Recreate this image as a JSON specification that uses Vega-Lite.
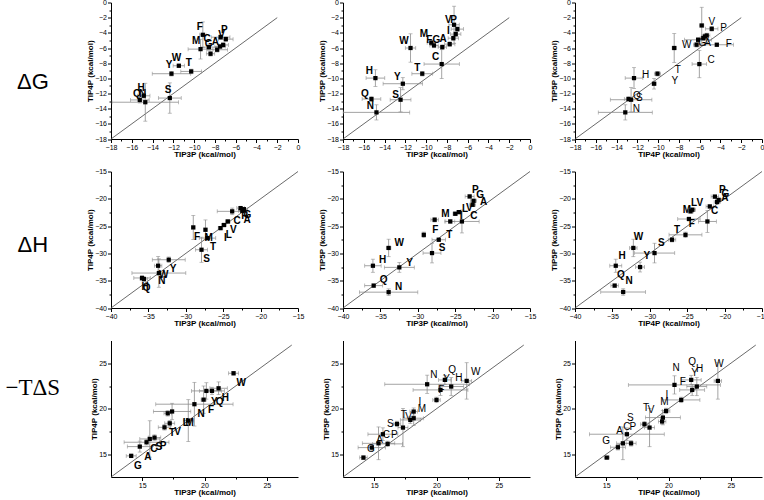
{
  "$schema": "https://vega.github.io/schema/vega-lite/v6.json",
  "padding": {"left": 0, "top": -1.5, "right": 0, "bottom": 0},
  "background": "white",
  "columns": 4,
  "spacing": {"row": 32, "column": 45},
  "bounds": "flush",
  "config": {
    "view": {"stroke": null},
    "font": "Liberation Sans",
    "axis": {"grid": false, "domainColor": "#000", "domainWidth": 1, "tickColor": "#000", "tickWidth": 1, "tickSize": 3.5,
      "labelColor": "#000", "labelFontSize": 7, "labelPadding": 1, "labelFont": "Liberation Sans", "labelFlush": false, "labelOverlap": false,
      "titleFont": "Liberation Sans", "titleColor": "#000", "titleFontSize": 8, "titleFontWeight": "bold", "titlePadding": 0}
  },
  "datasets": {
    "dg": [{"x": -18, "y": -18}, {"x": -2, "y": -2}],
    "dh": [{"x": -40, "y": -40}, {"x": -15, "y": -15}],
    "ds": [{"x": 12.5, "y": 12.5}, {"x": 27, "y": 27}],
    "g1": [
      {"aa": "F", "x": -9.16, "y": -4.26, "xe": 0.3, "ye": 1.7, "lx": -9.45, "ly": -3.2},
      {"aa": "M", "x": -9.38, "y": -6.15, "xe": 1.2, "ye": 1.3, "lx": -9.8, "ly": -5.1},
      {"aa": "C", "x": -8.58, "y": -5.88, "xe": 0.8, "ye": 0.4, "lx": -8.75, "ly": -4.85},
      {"aa": "G", "x": -8.42, "y": -6.76, "xe": 0.4, "ye": 0.3, "lx": -8.6, "ly": -5.5},
      {"aa": "A", "x": -7.78, "y": -6.23, "xe": 1.0, "ye": 0.3, "lx": -7.95, "ly": -5.15},
      {"aa": "P", "x": -7.45, "y": -4.57, "xe": 0.9, "ye": 0.3, "lx": -7.1, "ly": -3.6},
      {"aa": "V", "x": -6.95, "y": -4.83, "xe": 0.7, "ye": 0.3, "lx": -7.35, "ly": -4.25},
      {"aa": "I", "x": -7.2, "y": -5.6, "xe": 0.5, "ye": 0.3, "lx": null, "ly": null},
      {"aa": "L", "x": -7.5, "y": -5.8, "xe": 0.5, "ye": 0.3, "lx": null, "ly": null},
      {"aa": "W", "x": -11.47, "y": -8.34, "xe": 0.55, "ye": 0.2, "lx": -11.7, "ly": -7.3},
      {"aa": "Y", "x": -12.18, "y": -9.39, "xe": 1.85, "ye": 0.3, "lx": -12.4, "ly": -8.3},
      {"aa": "T", "x": -10.28, "y": -9.09, "xe": 1.0, "ye": 0.3, "lx": -10.5, "ly": -8.0},
      {"aa": "H", "x": -14.85, "y": -12.3, "xe": 0.6, "ye": 0.3, "lx": -15.1, "ly": -11.3},
      {"aa": "Q", "x": -15.23, "y": -12.85, "xe": 0.9, "ye": 0.4, "lx": -15.5, "ly": -12.0},
      {"aa": "N", "x": -14.7, "y": -13.15, "xe": 3.2, "ye": 2.5, "lx": -14.95, "ly": -12.1},
      {"aa": "S", "x": -12.34, "y": -12.6, "xe": 1.1, "ye": 2.0, "lx": -12.5, "ly": -11.5}
    ],
    "g2": [
      {"aa": "V", "x": -7.31, "y": -2.94, "xe": 0.5, "ye": 2.45, "lx": -7.86, "ly": -2.3},
      {"aa": "P", "x": -6.99, "y": -3.51, "xe": 0.6, "ye": 0.3, "lx": -7.35, "ly": -2.35},
      {"aa": "I", "x": -7.15, "y": -4.17, "xe": 0.5, "ye": 0.3, "lx": -7.86, "ly": -3.75},
      {"aa": "L", "x": -7.38, "y": -4.7, "xe": 0.5, "ye": 0.3, "lx": null, "ly": null},
      {"aa": "A", "x": -7.73, "y": -5.49, "xe": 0.5, "ye": 0.3, "lx": -8.37, "ly": -4.8},
      {"aa": "G", "x": -8.44, "y": -5.88, "xe": 0.4, "ye": 0.3, "lx": -9.0, "ly": -5.0},
      {"aa": "F", "x": -9.24, "y": -5.66, "xe": 0.4, "ye": 0.3, "lx": -9.7, "ly": -4.9},
      {"aa": "M", "x": -9.5, "y": -5.3, "xe": 0.4, "ye": 0.3, "lx": -10.2, "ly": -4.1},
      {"aa": "C", "x": -8.5, "y": -8.12, "xe": 1.7, "ye": 1.9, "lx": -9.08, "ly": -7.2},
      {"aa": "W", "x": -11.5, "y": -6.0, "xe": 0.5, "ye": 1.87, "lx": -12.14, "ly": -5.14},
      {"aa": "T", "x": -10.37, "y": -9.39, "xe": 1.0, "ye": 0.3, "lx": -10.85, "ly": -8.65},
      {"aa": "H", "x": -14.88, "y": -9.97, "xe": 0.9, "ye": 1.1, "lx": -15.46, "ly": -9.09},
      {"aa": "Y", "x": -12.24, "y": -10.71, "xe": 1.9, "ye": 0.8, "lx": -12.78, "ly": -9.88},
      {"aa": "Q", "x": -15.26, "y": -12.73, "xe": 0.9, "ye": 0.3, "lx": -15.9, "ly": -12.03},
      {"aa": "S", "x": -12.46, "y": -12.82, "xe": 1.0, "ye": 1.6, "lx": -12.95, "ly": -12.16},
      {"aa": "N", "x": -14.78, "y": -14.49, "xe": 3.2, "ye": 1.0, "lx": -15.36, "ly": -13.7}
    ],
    "g3": [
      {"aa": "H", "x": -12.32, "y": -9.97, "xe": 0.85, "ye": 1.38, "lx": -11.2, "ly": -9.55},
      {"aa": "Y", "x": -10.39, "y": -10.71, "xe": 0.2, "ye": 0.7, "lx": -8.4, "ly": -10.3},
      {"aa": "T", "x": -10.06, "y": -9.39, "xe": 0.3, "ye": 0.3, "lx": -8.1, "ly": -8.9},
      {"aa": "W", "x": -8.45, "y": -6.0, "xe": 0.2, "ye": 1.9, "lx": -7.25, "ly": -5.6},
      {"aa": "C", "x": -6.03, "y": -8.12, "xe": 0.7, "ye": 1.8, "lx": -4.9, "ly": -7.6},
      {"aa": "V", "x": -5.8, "y": -3.03, "xe": 0.2, "ye": 2.4, "lx": -4.84, "ly": -2.6},
      {"aa": "P", "x": -4.84, "y": -3.47, "xe": 0.6, "ye": 0.3, "lx": -3.7, "ly": -3.3},
      {"aa": "F", "x": -4.35, "y": -5.57, "xe": 1.6, "ye": 0.2, "lx": -3.2, "ly": -5.45},
      {"aa": "M", "x": -6.15, "y": -4.92, "xe": 1.3, "ye": 0.3, "lx": null, "ly": null},
      {"aa": "G", "x": -6.3, "y": -5.57, "xe": 0.3, "ye": 0.3, "lx": -5.75, "ly": -5.4},
      {"aa": "A", "x": -5.65, "y": -4.7, "xe": 0.3, "ye": 0.3, "lx": -5.25, "ly": -5.4},
      {"aa": "I", "x": -5.5, "y": -4.48, "xe": 0.3, "ye": 0.3, "lx": null, "ly": null},
      {"aa": "L", "x": -5.32, "y": -4.35, "xe": 0.3, "ye": 0.3, "lx": null, "ly": null},
      {"aa": "Q", "x": -12.85, "y": -12.73, "xe": 0.4, "ye": 0.3, "lx": -12.05, "ly": -12.35},
      {"aa": "S", "x": -12.6, "y": -12.82, "xe": 2.0, "ye": 1.6, "lx": -11.8, "ly": -12.55},
      {"aa": "N", "x": -13.16, "y": -14.49, "xe": 2.6, "ye": 1.0, "lx": -12.1, "ly": -14.1}
    ],
    "h1": [
      {"aa": "P", "x": -22.68, "y": -21.7, "xe": 0.5, "ye": 0.3, "lx": -22.15, "ly": -23.2},
      {"aa": "G", "x": -22.23, "y": -21.9, "xe": 0.5, "ye": 0.3, "lx": -21.75, "ly": -23.0},
      {"aa": "A", "x": -22.45, "y": -22.2, "xe": 0.5, "ye": 0.3, "lx": -21.8, "ly": -23.85},
      {"aa": "C", "x": -23.8, "y": -22.3, "xe": 2.0, "ye": 0.6, "lx": -23.13, "ly": -24.0},
      {"aa": "V", "x": -24.38, "y": -24.15, "xe": 0.3, "ye": 0.3, "lx": -23.66, "ly": -25.8},
      {"aa": "L", "x": -24.9, "y": -24.8, "xe": 0.3, "ye": 0.3, "lx": -24.24, "ly": -26.6},
      {"aa": "I", "x": -25.36, "y": -25.37, "xe": 0.3, "ye": 0.3, "lx": -24.7, "ly": -27.2},
      {"aa": "F", "x": -29.0, "y": -25.24, "xe": 0.2, "ye": 2.2, "lx": -28.5, "ly": -27.0},
      {"aa": "M", "x": -27.37, "y": -25.67, "xe": 0.2, "ye": 1.8, "lx": -26.95, "ly": -27.2},
      {"aa": "T", "x": -27.1, "y": -27.2, "xe": 1.1, "ye": 0.3, "lx": -26.35, "ly": -28.9},
      {"aa": "S", "x": -27.9, "y": -29.33, "xe": 0.8, "ye": 2.3, "lx": -27.23, "ly": -31.0},
      {"aa": "Y", "x": -32.28, "y": -31.16, "xe": 2.2, "ye": 0.5, "lx": -31.7, "ly": -32.8},
      {"aa": "W", "x": -33.7, "y": -32.26, "xe": 0.5, "ye": 1.7, "lx": -32.95, "ly": -33.9},
      {"aa": "N", "x": -33.6, "y": -33.6, "xe": 3.6, "ye": 2.6, "lx": -33.2, "ly": -35.1},
      {"aa": "Q", "x": -35.85, "y": -34.5, "xe": 1.1, "ye": 0.4, "lx": -35.25, "ly": -36.3},
      {"aa": "H", "x": -35.6, "y": -34.7, "xe": 0.5, "ye": 0.4, "lx": -35.45, "ly": -36.2}
    ],
    "h2": [
      {"aa": "P", "x": -23.07, "y": -19.57, "xe": 0.6, "ye": 0.3, "lx": -22.3, "ly": -18.4},
      {"aa": "G", "x": -22.54, "y": -20.37, "xe": 0.4, "ye": 0.3, "lx": -21.65, "ly": -19.3},
      {"aa": "A", "x": -22.67, "y": -21.1, "xe": 0.4, "ye": 0.3, "lx": -21.2, "ly": -20.5},
      {"aa": "L", "x": -24.99, "y": -22.74, "xe": 0.3, "ye": 0.3, "lx": -23.7, "ly": -21.8},
      {"aa": "V", "x": -24.5, "y": -22.44, "xe": 0.3, "ye": 0.3, "lx": -23.1, "ly": -21.75},
      {"aa": "I", "x": -25.66, "y": -24.15, "xe": 0.6, "ye": 0.3, "lx": -24.2, "ly": -23.2},
      {"aa": "M", "x": -27.75, "y": -23.84, "xe": 0.5, "ye": 0.4, "lx": -26.3, "ly": -22.7},
      {"aa": "C", "x": -24.1, "y": -24.15, "xe": 2.3, "ye": 2.1, "lx": -22.5, "ly": -23.2},
      {"aa": "F", "x": -29.2, "y": -26.6, "xe": 0.2, "ye": 0.5, "lx": -27.66, "ly": -25.67},
      {"aa": "T", "x": -27.2, "y": -27.5, "xe": 0.9, "ye": 0.3, "lx": -25.8, "ly": -26.6},
      {"aa": "S", "x": -28.1, "y": -29.94, "xe": 1.2, "ye": 1.8, "lx": -26.77, "ly": -29.0},
      {"aa": "W", "x": -33.9, "y": -29.0, "xe": 0.3, "ye": 1.6, "lx": -32.47, "ly": -28.1},
      {"aa": "H", "x": -36.0, "y": -32.26, "xe": 1.1, "ye": 1.2, "lx": -34.7, "ly": -31.2},
      {"aa": "Y", "x": -32.47, "y": -32.56, "xe": 2.0, "ye": 0.9, "lx": -31.1, "ly": -31.8},
      {"aa": "Q", "x": -35.9, "y": -35.9, "xe": 1.2, "ye": 0.3, "lx": -34.56, "ly": -34.8},
      {"aa": "N", "x": -33.9, "y": -37.1, "xe": 3.9, "ye": 0.6, "lx": -32.56, "ly": -36.2}
    ],
    "h3": [
      {"aa": "P", "x": -21.3, "y": -19.6, "xe": 0.5, "ye": 0.3, "lx": -20.3, "ly": -18.3},
      {"aa": "G", "x": -20.8, "y": -20.2, "xe": 0.4, "ye": 0.3, "lx": -19.9, "ly": -19.2},
      {"aa": "A", "x": -21.0, "y": -20.6, "xe": 0.4, "ye": 0.3, "lx": -19.95, "ly": -19.9},
      {"aa": "I", "x": -21.98, "y": -21.4, "xe": 0.5, "ye": 0.3, "lx": null, "ly": null},
      {"aa": "C", "x": -22.3, "y": -24.15, "xe": 1.2, "ye": 2.0, "lx": -21.35, "ly": -22.3},
      {"aa": "L", "x": -24.55, "y": -22.3, "xe": 0.4, "ye": 0.3, "lx": -24.1, "ly": -20.85},
      {"aa": "V", "x": -24.3, "y": -22.0, "xe": 0.4, "ye": 0.3, "lx": -23.3, "ly": -20.7},
      {"aa": "M", "x": -24.77, "y": -23.7, "xe": 1.5, "ye": 0.3, "lx": -25.05, "ly": -22.0},
      {"aa": "F", "x": -25.23, "y": -26.6, "xe": 2.2, "ye": 0.5, "lx": -24.4, "ly": -24.6},
      {"aa": "T", "x": -27.03, "y": -27.5, "xe": 0.5, "ye": 0.4, "lx": -26.35, "ly": -25.67},
      {"aa": "S", "x": -29.37, "y": -29.94, "xe": 2.7, "ye": 1.8, "lx": -28.47, "ly": -28.1},
      {"aa": "W", "x": -32.2, "y": -29.0, "xe": 0.5, "ye": 1.6, "lx": -31.5, "ly": -27.0},
      {"aa": "Y", "x": -31.3, "y": -32.5, "xe": 0.6, "ye": 0.9, "lx": -30.4, "ly": -30.55},
      {"aa": "H", "x": -34.55, "y": -32.26, "xe": 0.8, "ye": 1.2, "lx": -33.7, "ly": -30.45},
      {"aa": "Q", "x": -34.7, "y": -35.9, "xe": 0.5, "ye": 0.3, "lx": -33.87, "ly": -34.0},
      {"aa": "N", "x": -33.56, "y": -37.07, "xe": 3.0, "ye": 0.6, "lx": -32.75, "ly": -35.1}
    ],
    "s1": [
      {"aa": "W", "x": 22.33, "y": 23.9, "xe": 0.4, "ye": 0.2, "lx": 22.95, "ly": 22.8},
      {"aa": "H", "x": 21.13, "y": 22.25, "xe": 0.7, "ye": 0.7, "lx": 21.67, "ly": 21.23},
      {"aa": "Q", "x": 20.6, "y": 21.96, "xe": 1.0, "ye": 0.4, "lx": 21.21, "ly": 20.71},
      {"aa": "Y", "x": 20.15, "y": 21.96, "xe": 1.2, "ye": 0.9, "lx": 20.79, "ly": 20.79},
      {"aa": "F", "x": 19.93, "y": 21.0, "xe": 0.2, "ye": 1.5, "lx": 20.52, "ly": 19.87},
      {"aa": "N", "x": 19.19, "y": 20.5, "xe": 3.1, "ye": 2.4, "lx": 19.72, "ly": 19.43},
      {"aa": "M", "x": 17.4, "y": 19.7, "xe": 1.5, "ye": 0.9, "lx": 18.81, "ly": 18.48},
      {"aa": "I", "x": 17.05, "y": 19.5, "xe": 0.3, "ye": 0.3, "lx": null, "ly": null},
      {"aa": "L", "x": 18.7, "y": 18.7, "xe": 0.4, "ye": 2.3, "lx": 18.5, "ly": 18.4},
      {"aa": "V", "x": 17.21, "y": 18.4, "xe": 0.4, "ye": 0.3, "lx": 17.85, "ly": 17.42},
      {"aa": "T", "x": 16.79, "y": 17.96, "xe": 0.5, "ye": 0.3, "lx": 17.4, "ly": 17.31},
      {"aa": "P", "x": 15.99, "y": 16.83, "xe": 0.5, "ye": 0.3, "lx": 16.68, "ly": 15.95},
      {"aa": "S", "x": 15.61, "y": 16.68, "xe": 0.8, "ye": 2.0, "lx": 16.33, "ly": 15.77},
      {"aa": "C", "x": 15.35, "y": 16.32, "xe": 1.8, "ye": 0.3, "lx": 15.93, "ly": 15.6},
      {"aa": "A", "x": 14.81, "y": 15.84, "xe": 1.0, "ye": 0.6, "lx": 15.45, "ly": 14.67},
      {"aa": "G", "x": 14.12, "y": 14.82, "xe": 0.4, "ye": 0.2, "lx": 14.65, "ly": 13.75}
    ],
    "s2": [
      {"aa": "W", "x": 22.42, "y": 23.06, "xe": 0.4, "ye": 2.0, "lx": 23.15, "ly": 24.08},
      {"aa": "H", "x": 21.18, "y": 22.44, "xe": 1.0, "ye": 1.0, "lx": 21.8, "ly": 23.35},
      {"aa": "Q", "x": 20.67, "y": 23.17, "xe": 0.5, "ye": 0.5, "lx": 21.26, "ly": 24.27},
      {"aa": "Y", "x": 20.32, "y": 22.07, "xe": 2.2, "ye": 0.6, "lx": 20.8, "ly": 23.28},
      {"aa": "F", "x": 20.0, "y": 20.97, "xe": 0.3, "ye": 0.3, "lx": 20.38, "ly": 22.07},
      {"aa": "N", "x": 19.25, "y": 22.69, "xe": 3.4, "ye": 1.0, "lx": 19.78, "ly": 23.7},
      {"aa": "I", "x": 18.17, "y": 19.69, "xe": 0.3, "ye": 0.4, "lx": 18.66, "ly": 20.79},
      {"aa": "M", "x": 18.17, "y": 18.96, "xe": 0.8, "ye": 0.8, "lx": 18.84, "ly": 19.95},
      {"aa": "L", "x": 17.9, "y": 18.77, "xe": 0.8, "ye": 0.4, "lx": null, "ly": null},
      {"aa": "V", "x": 17.31, "y": 17.93, "xe": 0.4, "ye": 2.1, "lx": 17.77, "ly": 19.14},
      {"aa": "T", "x": 16.83, "y": 18.33, "xe": 0.3, "ye": 0.3, "lx": 17.37, "ly": 19.3},
      {"aa": "S", "x": 15.7, "y": 17.2, "xe": 1.2, "ye": 0.7, "lx": 16.29, "ly": 18.33},
      {"aa": "P", "x": 16.08, "y": 16.14, "xe": 1.2, "ye": 0.3, "lx": 16.61, "ly": 17.12},
      {"aa": "C", "x": 15.35, "y": 16.2, "xe": 1.3, "ye": 1.8, "lx": 15.97, "ly": 17.12},
      {"aa": "A", "x": 14.81, "y": 15.73, "xe": 1.1, "ye": 0.3, "lx": 15.43, "ly": 16.57},
      {"aa": "G", "x": 14.14, "y": 14.63, "xe": 0.3, "ye": 0.2, "lx": 14.73, "ly": 15.6}
    ],
    "s3": [
      {"aa": "W", "x": 23.96, "y": 23.06, "xe": 0.3, "ye": 2.0, "lx": 24.04, "ly": 24.9},
      {"aa": "H", "x": 22.27, "y": 22.44, "xe": 0.8, "ye": 1.0, "lx": 22.49, "ly": 24.38},
      {"aa": "Y", "x": 21.9, "y": 22.07, "xe": 1.0, "ye": 0.6, "lx": 22.09, "ly": 23.9},
      {"aa": "Q", "x": 21.82, "y": 23.17, "xe": 0.8, "ye": 0.5, "lx": 21.9, "ly": 25.1},
      {"aa": "F", "x": 21.02, "y": 20.97, "xe": 1.5, "ye": 0.3, "lx": 21.15, "ly": 22.9},
      {"aa": "N", "x": 20.48, "y": 22.62, "xe": 3.7, "ye": 1.0, "lx": 20.61, "ly": 24.52},
      {"aa": "I", "x": 19.81, "y": 19.76, "xe": 0.3, "ye": 0.3, "lx": 19.87, "ly": 21.52},
      {"aa": "M", "x": 19.55, "y": 19.03, "xe": 1.4, "ye": 0.8, "lx": 19.68, "ly": 20.79},
      {"aa": "L", "x": 19.49, "y": 18.6, "xe": 0.3, "ye": 0.3, "lx": null, "ly": null},
      {"aa": "V", "x": 18.48, "y": 17.93, "xe": 0.4, "ye": 2.1, "lx": 18.6, "ly": 19.87},
      {"aa": "T", "x": 18.07, "y": 18.3, "xe": 0.3, "ye": 0.3, "lx": 18.2, "ly": 20.13},
      {"aa": "S", "x": 16.66, "y": 17.2, "xe": 3.0, "ye": 0.7, "lx": 16.93, "ly": 19.03},
      {"aa": "P", "x": 17.0, "y": 16.2, "xe": 0.4, "ye": 0.3, "lx": 17.14, "ly": 18.04},
      {"aa": "C", "x": 16.34, "y": 16.2, "xe": 0.5, "ye": 1.8, "lx": 16.66, "ly": 18.04},
      {"aa": "A", "x": 15.94, "y": 15.77, "xe": 0.6, "ye": 0.3, "lx": 16.07, "ly": 17.56},
      {"aa": "G", "x": 15.05, "y": 14.63, "xe": 0.2, "ye": 0.1, "lx": 15.0, "ly": 16.47}
    ]
  },
  "concat": [
    {"width": 65.7, "height": 136.5, "data": {"values": [{"t": "ΔG"}]},
     "mark": {"type": "text", "fontSize": 22, "font": "Liberation Sans", "color": "#000", "dy": 11},
     "encoding": {"text": {"field": "t"}}},
    {"width": 187, "height": 136.5, "data": {"name": "g1"}, "resolve": {"axis": {"x": "independent", "y": "independent"}},
     "layer": [
      {"data": {"name": "dg"}, "mark": {"type": "line", "color": "#444", "strokeWidth": 0.8},
       "encoding": {"x": {"field": "x", "type": "quantitative", "scale": {"domain": [-18, 0], "nice": false, "zero": false}, "axis": {"orient": "bottom", "values": [-17, -15, -13, -11, -9, -7, -5, -3, -1], "labels": false, "domain": false, "tickSize": 2, "title": null}},
                    "y": {"field": "y", "type": "quantitative", "scale": {"domain": [-18, 0], "nice": false, "zero": false}, "axis": {"orient": "left", "values": [-17, -15, -13, -11, -9, -7, -5, -3, -1], "labels": false, "domain": false, "tickSize": 2, "title": null}}}},
      {"mark": {"type": "errorbar", "ticks": true, "size": 4, "thickness": 0.8, "color": "#8c8c8c"},
       "encoding": {"x": {"field": "x", "type": "quantitative", "axis": null}, "xError": {"field": "xe"}, "y": {"field": "y", "type": "quantitative", "axis": null}}},
      {"mark": {"type": "errorbar", "ticks": true, "size": 4, "thickness": 0.8, "color": "#8c8c8c"},
       "encoding": {"x": {"field": "x", "type": "quantitative", "axis": null}, "y": {"field": "y", "type": "quantitative", "axis": null}, "yError": {"field": "ye"}}},
      {"mark": {"type": "square", "filled": true, "color": "#000", "size": 18, "opacity": 1},
       "encoding": {"x": {"field": "x", "type": "quantitative", "scale": {"domain": [-18, 0], "nice": false, "zero": false}, "axis": {"orient": "bottom", "values": [-18, -16, -14, -12, -10, -8, -6, -4, -2, 0], "title": "TIP3P (kcal/mol)"}},
                    "y": {"field": "y", "type": "quantitative", "scale": {"domain": [-18, 0], "nice": false, "zero": false}, "axis": {"orient": "left", "values": [-18, -16, -14, -12, -10, -8, -6, -4, -2, 0], "title": "TIP4P (kcal/mol)"}}}},
      {"transform": [{"filter": "datum.lx != null"}], "mark": {"type": "text", "fontSize": 10, "fontWeight": "bold", "font": "Liberation Sans", "color": "#000"},
       "encoding": {"x": {"field": "lx", "type": "quantitative", "axis": null}, "y": {"field": "ly", "type": "quantitative", "axis": null}, "text": {"field": "aa"}}}
     ]},
    {"width": 187, "height": 136.5, "data": {"name": "g2"}, "resolve": {"axis": {"x": "independent", "y": "independent"}},
     "layer": [
      {"data": {"name": "dg"}, "mark": {"type": "line", "color": "#444", "strokeWidth": 0.8},
       "encoding": {"x": {"field": "x", "type": "quantitative", "scale": {"domain": [-18, 0], "nice": false, "zero": false}, "axis": {"orient": "bottom", "values": [-17, -15, -13, -11, -9, -7, -5, -3, -1], "labels": false, "domain": false, "tickSize": 2, "title": null}},
                    "y": {"field": "y", "type": "quantitative", "scale": {"domain": [-18, 0], "nice": false, "zero": false}, "axis": {"orient": "left", "values": [-17, -15, -13, -11, -9, -7, -5, -3, -1], "labels": false, "domain": false, "tickSize": 2, "title": null}}}},
      {"mark": {"type": "errorbar", "ticks": true, "size": 4, "thickness": 0.8, "color": "#8c8c8c"},
       "encoding": {"x": {"field": "x", "type": "quantitative", "axis": null}, "xError": {"field": "xe"}, "y": {"field": "y", "type": "quantitative", "axis": null}}},
      {"mark": {"type": "errorbar", "ticks": true, "size": 4, "thickness": 0.8, "color": "#8c8c8c"},
       "encoding": {"x": {"field": "x", "type": "quantitative", "axis": null}, "y": {"field": "y", "type": "quantitative", "axis": null}, "yError": {"field": "ye"}}},
      {"mark": {"type": "square", "filled": true, "color": "#000", "size": 18, "opacity": 1},
       "encoding": {"x": {"field": "x", "type": "quantitative", "scale": {"domain": [-18, 0], "nice": false, "zero": false}, "axis": {"orient": "bottom", "values": [-18, -16, -14, -12, -10, -8, -6, -4, -2, 0], "title": "TIP3P (kcal/mol)"}},
                    "y": {"field": "y", "type": "quantitative", "scale": {"domain": [-18, 0], "nice": false, "zero": false}, "axis": {"orient": "left", "values": [-18, -16, -14, -12, -10, -8, -6, -4, -2, 0], "title": "TIP5P (kcal/mol)"}}}},
      {"transform": [{"filter": "datum.lx != null"}], "mark": {"type": "text", "fontSize": 10, "fontWeight": "bold", "font": "Liberation Sans", "color": "#000"},
       "encoding": {"x": {"field": "lx", "type": "quantitative", "axis": null}, "y": {"field": "ly", "type": "quantitative", "axis": null}, "text": {"field": "aa"}}}
     ]},
    {"width": 187, "height": 136.5, "data": {"name": "g3"}, "resolve": {"axis": {"x": "independent", "y": "independent"}},
     "layer": [
      {"data": {"name": "dg"}, "mark": {"type": "line", "color": "#444", "strokeWidth": 0.8},
       "encoding": {"x": {"field": "x", "type": "quantitative", "scale": {"domain": [-18, 0], "nice": false, "zero": false}, "axis": {"orient": "bottom", "values": [-17, -15, -13, -11, -9, -7, -5, -3, -1], "labels": false, "domain": false, "tickSize": 2, "title": null}},
                    "y": {"field": "y", "type": "quantitative", "scale": {"domain": [-18, 0], "nice": false, "zero": false}, "axis": {"orient": "left", "values": [-17, -15, -13, -11, -9, -7, -5, -3, -1], "labels": false, "domain": false, "tickSize": 2, "title": null}}}},
      {"mark": {"type": "errorbar", "ticks": true, "size": 4, "thickness": 0.8, "color": "#8c8c8c"},
       "encoding": {"x": {"field": "x", "type": "quantitative", "axis": null}, "xError": {"field": "xe"}, "y": {"field": "y", "type": "quantitative", "axis": null}}},
      {"mark": {"type": "errorbar", "ticks": true, "size": 4, "thickness": 0.8, "color": "#8c8c8c"},
       "encoding": {"x": {"field": "x", "type": "quantitative", "axis": null}, "y": {"field": "y", "type": "quantitative", "axis": null}, "yError": {"field": "ye"}}},
      {"mark": {"type": "square", "filled": true, "color": "#000", "size": 18, "opacity": 1},
       "encoding": {"x": {"field": "x", "type": "quantitative", "scale": {"domain": [-18, 0], "nice": false, "zero": false}, "axis": {"orient": "bottom", "values": [-18, -16, -14, -12, -10, -8, -6, -4, -2, 0], "title": "TIP4P (kcal/mol)"}},
                    "y": {"field": "y", "type": "quantitative", "scale": {"domain": [-18, 0], "nice": false, "zero": false}, "axis": {"orient": "left", "values": [-18, -16, -14, -12, -10, -8, -6, -4, -2, 0], "title": "TIP5P (kcal/mol)"}}}},
      {"transform": [{"filter": "datum.lx != null"}], "mark": {"type": "text", "fontSize": 10, "fontWeight": "normal", "font": "Liberation Sans", "color": "#000"},
       "encoding": {"x": {"field": "lx", "type": "quantitative", "axis": null}, "y": {"field": "ly", "type": "quantitative", "axis": null}, "text": {"field": "aa"}}}
     ]},
    {"width": 65.7, "height": 136.5, "data": {"values": [{"t": "ΔH"}]},
     "mark": {"type": "text", "fontSize": 22, "font": "Liberation Sans", "color": "#000", "dy": 5},
     "encoding": {"text": {"field": "t"}}},
    {"width": 187, "height": 136.5, "data": {"name": "h1"}, "resolve": {"axis": {"x": "independent", "y": "independent"}},
     "layer": [
      {"data": {"name": "dh"}, "mark": {"type": "line", "color": "#444", "strokeWidth": 0.8},
       "encoding": {"x": {"field": "x", "type": "quantitative", "scale": {"domain": [-40, -15], "nice": false, "zero": false}, "axis": {"orient": "bottom", "values": [-37.5, -32.5, -27.5, -22.5, -17.5], "labels": false, "domain": false, "tickSize": 2, "title": null}},
                    "y": {"field": "y", "type": "quantitative", "scale": {"domain": [-40, -15], "nice": false, "zero": false}, "axis": {"orient": "left", "values": [-37.5, -32.5, -27.5, -22.5, -17.5], "labels": false, "domain": false, "tickSize": 2, "title": null}}}},
      {"mark": {"type": "errorbar", "ticks": true, "size": 4, "thickness": 0.8, "color": "#8c8c8c"},
       "encoding": {"x": {"field": "x", "type": "quantitative", "axis": null}, "xError": {"field": "xe"}, "y": {"field": "y", "type": "quantitative", "axis": null}}},
      {"mark": {"type": "errorbar", "ticks": true, "size": 4, "thickness": 0.8, "color": "#8c8c8c"},
       "encoding": {"x": {"field": "x", "type": "quantitative", "axis": null}, "y": {"field": "y", "type": "quantitative", "axis": null}, "yError": {"field": "ye"}}},
      {"mark": {"type": "square", "filled": true, "color": "#000", "size": 18, "opacity": 1},
       "encoding": {"x": {"field": "x", "type": "quantitative", "scale": {"domain": [-40, -15], "nice": false, "zero": false}, "axis": {"orient": "bottom", "values": [-40, -35, -30, -25, -20, -15], "title": "TIP3P (kcal/mol)"}},
                    "y": {"field": "y", "type": "quantitative", "scale": {"domain": [-40, -15], "nice": false, "zero": false}, "axis": {"orient": "left", "values": [-40, -35, -30, -25, -20, -15], "title": "TIP4P (kcal/mol)"}}}},
      {"transform": [{"filter": "datum.lx != null"}], "mark": {"type": "text", "fontSize": 10, "fontWeight": "bold", "font": "Liberation Sans", "color": "#000"},
       "encoding": {"x": {"field": "lx", "type": "quantitative", "axis": null}, "y": {"field": "ly", "type": "quantitative", "axis": null}, "text": {"field": "aa"}}}
     ]},
    {"width": 187, "height": 136.5, "data": {"name": "h2"}, "resolve": {"axis": {"x": "independent", "y": "independent"}},
     "layer": [
      {"data": {"name": "dh"}, "mark": {"type": "line", "color": "#444", "strokeWidth": 0.8},
       "encoding": {"x": {"field": "x", "type": "quantitative", "scale": {"domain": [-40, -15], "nice": false, "zero": false}, "axis": {"orient": "bottom", "values": [-37.5, -32.5, -27.5, -22.5, -17.5], "labels": false, "domain": false, "tickSize": 2, "title": null}},
                    "y": {"field": "y", "type": "quantitative", "scale": {"domain": [-40, -15], "nice": false, "zero": false}, "axis": {"orient": "left", "values": [-37.5, -32.5, -27.5, -22.5, -17.5], "labels": false, "domain": false, "tickSize": 2, "title": null}}}},
      {"mark": {"type": "errorbar", "ticks": true, "size": 4, "thickness": 0.8, "color": "#8c8c8c"},
       "encoding": {"x": {"field": "x", "type": "quantitative", "axis": null}, "xError": {"field": "xe"}, "y": {"field": "y", "type": "quantitative", "axis": null}}},
      {"mark": {"type": "errorbar", "ticks": true, "size": 4, "thickness": 0.8, "color": "#8c8c8c"},
       "encoding": {"x": {"field": "x", "type": "quantitative", "axis": null}, "y": {"field": "y", "type": "quantitative", "axis": null}, "yError": {"field": "ye"}}},
      {"mark": {"type": "square", "filled": true, "color": "#000", "size": 18, "opacity": 1},
       "encoding": {"x": {"field": "x", "type": "quantitative", "scale": {"domain": [-40, -15], "nice": false, "zero": false}, "axis": {"orient": "bottom", "values": [-40, -35, -30, -25, -20, -15], "title": "TIP3P (kcal/mol)"}},
                    "y": {"field": "y", "type": "quantitative", "scale": {"domain": [-40, -15], "nice": false, "zero": false}, "axis": {"orient": "left", "values": [-40, -35, -30, -25, -20, -15], "title": "TIP5P (kcal/mol)"}}}},
      {"transform": [{"filter": "datum.lx != null"}], "mark": {"type": "text", "fontSize": 10, "fontWeight": "bold", "font": "Liberation Sans", "color": "#000"},
       "encoding": {"x": {"field": "lx", "type": "quantitative", "axis": null}, "y": {"field": "ly", "type": "quantitative", "axis": null}, "text": {"field": "aa"}}}
     ]},
    {"width": 187, "height": 136.5, "data": {"name": "h3"}, "resolve": {"axis": {"x": "independent", "y": "independent"}},
     "layer": [
      {"data": {"name": "dh"}, "mark": {"type": "line", "color": "#444", "strokeWidth": 0.8},
       "encoding": {"x": {"field": "x", "type": "quantitative", "scale": {"domain": [-40, -15], "nice": false, "zero": false}, "axis": {"orient": "bottom", "values": [-37.5, -32.5, -27.5, -22.5, -17.5], "labels": false, "domain": false, "tickSize": 2, "title": null}},
                    "y": {"field": "y", "type": "quantitative", "scale": {"domain": [-40, -15], "nice": false, "zero": false}, "axis": {"orient": "left", "values": [-37.5, -32.5, -27.5, -22.5, -17.5], "labels": false, "domain": false, "tickSize": 2, "title": null}}}},
      {"mark": {"type": "errorbar", "ticks": true, "size": 4, "thickness": 0.8, "color": "#8c8c8c"},
       "encoding": {"x": {"field": "x", "type": "quantitative", "axis": null}, "xError": {"field": "xe"}, "y": {"field": "y", "type": "quantitative", "axis": null}}},
      {"mark": {"type": "errorbar", "ticks": true, "size": 4, "thickness": 0.8, "color": "#8c8c8c"},
       "encoding": {"x": {"field": "x", "type": "quantitative", "axis": null}, "y": {"field": "y", "type": "quantitative", "axis": null}, "yError": {"field": "ye"}}},
      {"mark": {"type": "square", "filled": true, "color": "#000", "size": 18, "opacity": 1},
       "encoding": {"x": {"field": "x", "type": "quantitative", "scale": {"domain": [-40, -15], "nice": false, "zero": false}, "axis": {"orient": "bottom", "values": [-40, -35, -30, -25, -20, -15], "title": "TIP4P (kcal/mol)"}},
                    "y": {"field": "y", "type": "quantitative", "scale": {"domain": [-40, -15], "nice": false, "zero": false}, "axis": {"orient": "left", "values": [-40, -35, -30, -25, -20, -15], "title": "TIP5P (kcal/mol)"}}}},
      {"transform": [{"filter": "datum.lx != null"}], "mark": {"type": "text", "fontSize": 10, "fontWeight": "bold", "font": "Liberation Sans", "color": "#000"},
       "encoding": {"x": {"field": "lx", "type": "quantitative", "axis": null}, "y": {"field": "ly", "type": "quantitative", "axis": null}, "text": {"field": "aa"}}}
     ]},
    {"width": 65.7, "height": 136.5, "data": {"values": [{"t": "−TΔS"}]},
     "mark": {"type": "text", "fontSize": 23, "font": "Liberation Serif", "color": "#000", "dy": -21},
     "encoding": {"text": {"field": "t"}}},
    {"width": 187, "height": 136.5, "data": {"name": "s1"}, "resolve": {"axis": {"x": "independent", "y": "independent"}},
     "layer": [
      {"data": {"name": "ds"}, "mark": {"type": "line", "color": "#444", "strokeWidth": 0.8},
       "encoding": {"x": {"field": "x", "type": "quantitative", "scale": {"domain": [12.5, 27.5], "nice": false, "zero": false}, "axis": {"orient": "bottom", "values": [17.5, 22.5], "labels": false, "domain": false, "tickSize": 2, "title": null}},
                    "y": {"field": "y", "type": "quantitative", "scale": {"domain": [12.5, 27.5], "nice": false, "zero": false}, "axis": {"orient": "left", "values": [17.5, 22.5], "labels": false, "domain": false, "tickSize": 2, "title": null}}}},
      {"mark": {"type": "errorbar", "ticks": true, "size": 4, "thickness": 0.8, "color": "#8c8c8c"},
       "encoding": {"x": {"field": "x", "type": "quantitative", "axis": null}, "xError": {"field": "xe"}, "y": {"field": "y", "type": "quantitative", "axis": null}}},
      {"mark": {"type": "errorbar", "ticks": true, "size": 4, "thickness": 0.8, "color": "#8c8c8c"},
       "encoding": {"x": {"field": "x", "type": "quantitative", "axis": null}, "y": {"field": "y", "type": "quantitative", "axis": null}, "yError": {"field": "ye"}}},
      {"mark": {"type": "square", "filled": true, "color": "#000", "size": 18, "opacity": 1},
       "encoding": {"x": {"field": "x", "type": "quantitative", "scale": {"domain": [12.5, 27.5], "nice": false, "zero": false}, "axis": {"orient": "bottom", "values": [15, 20, 25], "title": "TIP3P (kcal/mol)"}},
                    "y": {"field": "y", "type": "quantitative", "scale": {"domain": [12.5, 27.5], "nice": false, "zero": false}, "axis": {"orient": "left", "values": [15, 20, 25], "title": "TIP4P (kcal/mol)"}}}},
      {"transform": [{"filter": "datum.lx != null"}], "mark": {"type": "text", "fontSize": 10, "fontWeight": "bold", "font": "Liberation Sans", "color": "#000"},
       "encoding": {"x": {"field": "lx", "type": "quantitative", "axis": null}, "y": {"field": "ly", "type": "quantitative", "axis": null}, "text": {"field": "aa"}}}
     ]},
    {"width": 187, "height": 136.5, "data": {"name": "s2"}, "resolve": {"axis": {"x": "independent", "y": "independent"}},
     "layer": [
      {"data": {"name": "ds"}, "mark": {"type": "line", "color": "#444", "strokeWidth": 0.8},
       "encoding": {"x": {"field": "x", "type": "quantitative", "scale": {"domain": [12.5, 27.5], "nice": false, "zero": false}, "axis": {"orient": "bottom", "values": [17.5, 22.5], "labels": false, "domain": false, "tickSize": 2, "title": null}},
                    "y": {"field": "y", "type": "quantitative", "scale": {"domain": [12.5, 27.5], "nice": false, "zero": false}, "axis": {"orient": "left", "values": [17.5, 22.5], "labels": false, "domain": false, "tickSize": 2, "title": null}}}},
      {"mark": {"type": "errorbar", "ticks": true, "size": 4, "thickness": 0.8, "color": "#8c8c8c"},
       "encoding": {"x": {"field": "x", "type": "quantitative", "axis": null}, "xError": {"field": "xe"}, "y": {"field": "y", "type": "quantitative", "axis": null}}},
      {"mark": {"type": "errorbar", "ticks": true, "size": 4, "thickness": 0.8, "color": "#8c8c8c"},
       "encoding": {"x": {"field": "x", "type": "quantitative", "axis": null}, "y": {"field": "y", "type": "quantitative", "axis": null}, "yError": {"field": "ye"}}},
      {"mark": {"type": "square", "filled": true, "color": "#000", "size": 18, "opacity": 1},
       "encoding": {"x": {"field": "x", "type": "quantitative", "scale": {"domain": [12.5, 27.5], "nice": false, "zero": false}, "axis": {"orient": "bottom", "values": [15, 20, 25], "title": "TIP3P (kcal/mol)"}},
                    "y": {"field": "y", "type": "quantitative", "scale": {"domain": [12.5, 27.5], "nice": false, "zero": false}, "axis": {"orient": "left", "values": [15, 20, 25], "title": "TIP5P (kcal/mol)"}}}},
      {"transform": [{"filter": "datum.lx != null"}], "mark": {"type": "text", "fontSize": 10, "fontWeight": "normal", "font": "Liberation Sans", "color": "#000"},
       "encoding": {"x": {"field": "lx", "type": "quantitative", "axis": null}, "y": {"field": "ly", "type": "quantitative", "axis": null}, "text": {"field": "aa"}}}
     ]},
    {"width": 187, "height": 136.5, "data": {"name": "s3"}, "resolve": {"axis": {"x": "independent", "y": "independent"}},
     "layer": [
      {"data": {"name": "ds"}, "mark": {"type": "line", "color": "#444", "strokeWidth": 0.8},
       "encoding": {"x": {"field": "x", "type": "quantitative", "scale": {"domain": [12.5, 27.5], "nice": false, "zero": false}, "axis": {"orient": "bottom", "values": [17.5, 22.5], "labels": false, "domain": false, "tickSize": 2, "title": null}},
                    "y": {"field": "y", "type": "quantitative", "scale": {"domain": [12.5, 27.5], "nice": false, "zero": false}, "axis": {"orient": "left", "values": [17.5, 22.5], "labels": false, "domain": false, "tickSize": 2, "title": null}}}},
      {"mark": {"type": "errorbar", "ticks": true, "size": 4, "thickness": 0.8, "color": "#8c8c8c"},
       "encoding": {"x": {"field": "x", "type": "quantitative", "axis": null}, "xError": {"field": "xe"}, "y": {"field": "y", "type": "quantitative", "axis": null}}},
      {"mark": {"type": "errorbar", "ticks": true, "size": 4, "thickness": 0.8, "color": "#8c8c8c"},
       "encoding": {"x": {"field": "x", "type": "quantitative", "axis": null}, "y": {"field": "y", "type": "quantitative", "axis": null}, "yError": {"field": "ye"}}},
      {"mark": {"type": "square", "filled": true, "color": "#000", "size": 18, "opacity": 1},
       "encoding": {"x": {"field": "x", "type": "quantitative", "scale": {"domain": [12.5, 27.5], "nice": false, "zero": false}, "axis": {"orient": "bottom", "values": [15, 20, 25], "title": "TIP4P (kcal/mol)"}},
                    "y": {"field": "y", "type": "quantitative", "scale": {"domain": [12.5, 27.5], "nice": false, "zero": false}, "axis": {"orient": "left", "values": [15, 20, 25], "title": "TIP5P (kcal/mol)"}}}},
      {"transform": [{"filter": "datum.lx != null"}], "mark": {"type": "text", "fontSize": 10, "fontWeight": "normal", "font": "Liberation Sans", "color": "#000"},
       "encoding": {"x": {"field": "lx", "type": "quantitative", "axis": null}, "y": {"field": "ly", "type": "quantitative", "axis": null}, "text": {"field": "aa"}}}
     ]}
  ]
}
